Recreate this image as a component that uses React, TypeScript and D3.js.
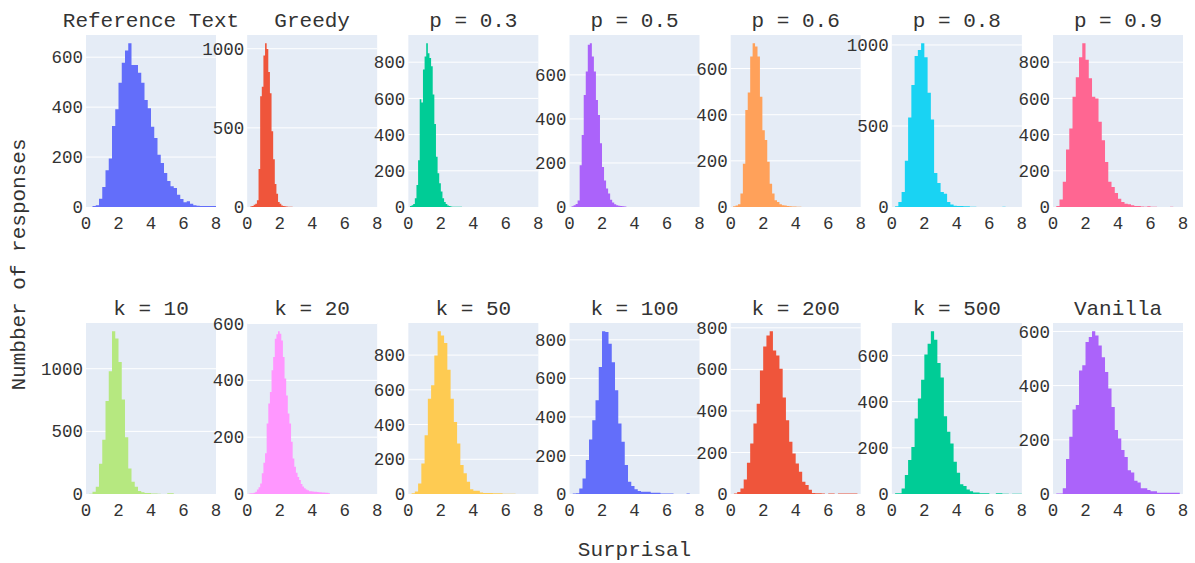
import * as d3 from 'd3';

// one histogram per model, counts per bin
const titles = [
  'Reference Text', 'Greedy', 'p = 0.3', 'p = 0.5', 'p = 0.6', 'p = 0.8', 'p = 0.9',
  'k = 10', 'k = 20', 'k = 50', 'k = 100', 'k = 200', 'k = 500', 'Vanilla',
];
const colors = [
  '#636EFA', '#EF553B', '#00CC96', '#AB63FA', '#FFA15A', '#19D3F3', '#FF6692',
  '#B6E880', '#FF97FF', '#FECB52', '#636EFA', '#EF553B', '#00CC96', '#AB63FA',
];
const binStarts = [0.4, 0.2, 0.1, 0.125, 0.15, 0.2, 0.2, 0.2, 0.1, 0.2, 0.2, 0.2, 0.2, 0.2];
const binWidths = [0.2, 0.1, 0.1, 0.125, 0.15, 0.2, 0.2, 0.2, 0.1, 0.2, 0.2, 0.2, 0.2, 0.2];

const refText = [4, 7, 33, 80, 147, 194, 324, 391, 498, 578, 627, 656, 569, 569, 538, 498, 428, 395, 321, 276, 209, 176, 136, 104, 83, 76, 49, 32, 19, 23, 13, 7, 5, 4, 4, 4, 4, 4];
const greedy = [5, 6, 15, 20, 42, 240, 700, 760, 957, 1035, 998, 853, 718, 478, 302, 146, 83, 31, 21, 10, 6, 4, 3, 2, 2, 1];
const p03 = [5, 9, 16, 49, 122, 258, 595, 577, 759, 832, 905, 850, 823, 777, 622, 459, 277, 186, 131, 86, 49, 27, 16, 8, 5, 3, 2, 2, 1, 1, 1, 1];
const p05 = [3, 8, 14, 30, 190, 327, 509, 615, 737, 744, 684, 615, 486, 418, 289, 182, 120, 84, 61, 33, 20, 12, 8, 6, 4, 3, 2];
const p06 = [3, 6, 12, 58, 188, 420, 496, 652, 710, 696, 652, 478, 333, 290, 196, 101, 58, 29, 22, 12, 8, 6, 4, 3, 2, 2, 1, 1];
const p08 = [4, 31, 93, 285, 553, 753, 932, 969, 1011, 924, 705, 540, 210, 148, 93, 82, 31, 16, 8, 6, 6, 5, 4, 2, 1, 0, 0, 0, 0, 0, 0, 0, 0, 2];
const p09 = [6, 41, 139, 318, 434, 609, 717, 827, 905, 813, 711, 609, 600, 471, 369, 249, 139, 111, 78, 46, 28, 18, 15, 10, 6, 6, 3, 2, 4, 1, 1, 0, 0, 0, 0, 2];
const k10 = [2, 18, 58, 242, 434, 742, 979, 1300, 1242, 1053, 755, 453, 203, 97, 58, 24, 13, 8, 8, 3, 3, 2, 0, 0, 5, 5];
const k20 = [2, 3, 3, 4, 8, 16, 24, 37, 73, 110, 143, 248, 318, 359, 435, 482, 546, 562, 573, 564, 540, 482, 406, 347, 283, 248, 184, 125, 96, 75, 60, 49, 35, 26, 20, 16, 13, 10, 10, 9, 8, 8, 7, 6, 6, 5, 5, 4, 4, 3];
const k50 = [4, 15, 60, 176, 339, 549, 626, 798, 938, 913, 869, 716, 549, 415, 291, 167, 119, 71, 27, 19, 19, 8, 6, 6, 6, 4, 4, 4, 1, 1, 1, 1];
const k100 = [3, 4, 29, 81, 176, 283, 383, 486, 659, 845, 840, 779, 684, 538, 366, 271, 150, 64, 41, 24, 16, 12, 12, 12, 7, 7, 7, 3, 3, 3, 3, 0, 0, 0, 0, 2];
const k200 = [3, 10, 27, 70, 150, 243, 339, 435, 595, 710, 763, 784, 691, 667, 603, 464, 355, 251, 195, 147, 107, 59, 43, 20, 5, 4, 4, 3, 0, 2, 2, 0, 2, 2, 2, 2, 2, 2];
const k500 = [3, 3, 24, 82, 147, 204, 327, 413, 495, 604, 650, 705, 668, 567, 504, 337, 269, 219, 140, 92, 42, 35, 20, 12, 7, 7, 3, 3, 3, 0, 0, 3, 3, 1, 1, 0, 1, 1, 1];
const vanilla = [2, 2, 21, 129, 211, 312, 328, 456, 475, 561, 579, 601, 585, 548, 505, 450, 389, 321, 236, 205, 162, 137, 88, 79, 49, 42, 21, 21, 15, 10, 10, 5, 5, 5, 5, 5, 5, 5];

const series = [refText, greedy, p03, p05, p06, p08, p09, k10, k20, k50, k100, k200, k500, vanilla];

const yTicks = [
  [0, 200, 400, 600], [0, 500, 1000], [0, 200, 400, 600, 800], [0, 200, 400, 600],
  [0, 200, 400, 600], [0, 500, 1000], [0, 200, 400, 600, 800],
  [0, 500, 1000], [0, 200, 400, 600], [0, 200, 400, 600, 800], [0, 200, 400, 600, 800],
  [0, 200, 400, 600, 800], [0, 200, 400, 600], [0, 200, 400, 600],
];
const xTicks = [0, 2, 4, 6, 8];

const FONT = '"Liberation Mono", "Courier New", monospace';
const TEXT = '#333';
const W = 1195;
const H = 563;

function Panel({ i }: { i: number }) {
  const row = Math.floor(i / 7);
  const col = i % 7;
  const left = 86 + col * 161.17;
  const top = row === 0 ? 35 : 323;
  const bottom = row === 0 ? 207 : 494;
  const counts = series[i];
  const start = binStarts[i];
  const w = binWidths[i];

  const x = d3.scaleLinear().domain([0, 8]).range([left, left + 130]);
  const y = d3.scaleLinear().domain([0, (d3.max(counts) as number) * 1.05]).range([bottom, top]);

  // bars drawn as one stepped outline so neighbouring bins don't leave seams
  const path = d3.path();
  path.moveTo(x(start), y(0));
  counts.forEach((c, j) => {
    path.lineTo(x(start + j * w), y(c));
    path.lineTo(x(start + (j + 1) * w), y(c));
  });
  path.lineTo(x(start + counts.length * w), y(0));
  path.closePath();

  return (
    <g>
      <rect x={left} y={top} width={130} height={bottom - top} fill="#E5ECF6" />
      {yTicks[i].filter(t => t > 0).map(t => (
        <line key={t} x1={left} x2={left + 130} y1={y(t)} y2={y(t)} stroke="#fff" strokeWidth={1} />
      ))}
      <path d={path.toString()} fill={colors[i]} />
      {yTicks[i].map(t => (
        <text key={t} x={left - 3} y={y(t)} dy="0.35em" textAnchor="end" fontSize={17.5} fill={TEXT}>
          {t}
        </text>
      ))}
      {xTicks.map(t => (
        <text key={t} x={x(t)} y={bottom + 21.5} textAnchor="middle" fontSize={17.5} fill={TEXT}>
          {t}
        </text>
      ))}
      <text x={left + 65} y={top - 8.5} textAnchor="middle" fontSize={21} fill={TEXT}>
        {titles[i]}
      </text>
    </g>
  );
}

export default function App() {
  return (
    <svg
      width={W}
      height={H}
      fontFamily={FONT}
      style={{ position: 'absolute', left: 0, top: 0, background: '#fff' }}
    >
      {titles.map((_, i) => (
        <Panel key={i} i={i} />
      ))}
      <text x={634.5} y={556} textAnchor="middle" fontSize={21} fill={TEXT}>
        Surprisal
      </text>
      <text transform="translate(25,264.5) rotate(-90)" textAnchor="middle" fontSize={21} fill={TEXT}>
        Numbber of responses
      </text>
    </svg>
  );
}
